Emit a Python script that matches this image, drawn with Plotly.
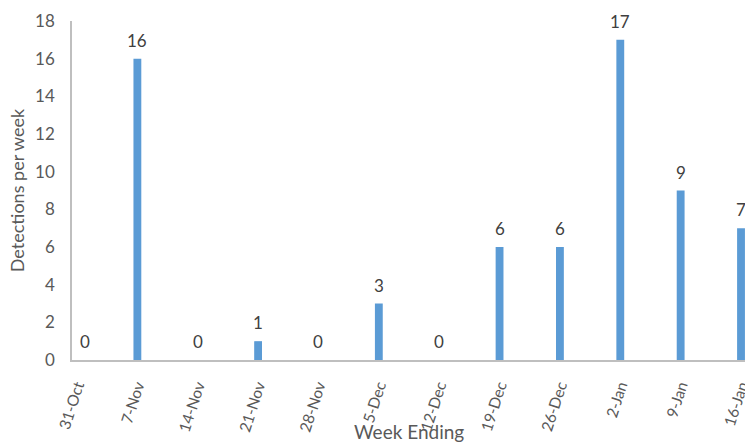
import plotly.graph_objects as go

weeks = ["31-Oct", "7-Nov", "14-Nov", "21-Nov", "28-Nov", "5-Dec", "12-Dec",
         "19-Dec", "26-Dec", "2-Jan", "9-Jan", "16-Jan"]
detections = [0, 16, 0, 1, 0, 3, 0, 6, 6, 17, 9, 7]

FONT = "Lato, Carlito, 'Open Sans', sans-serif"
BAR = "#5B9BD5"

fig = go.Figure()
fig.add_trace(go.Bar(
    x=list(range(len(weeks))), y=detections,
    marker=dict(color=BAR, line=dict(width=0)),
    width=0.13,
    hoverinfo="skip",
))

for i, v in enumerate(detections):
    fig.add_annotation(
        x=i, y=v, text=str(v), showarrow=False,
        yanchor="bottom", yshift=6, xshift=8 if i == 0 else 0,
        font=dict(family=FONT, size=17, color="#404040"),
    )

# x-axis title placed just below the rotated tick labels
fig.add_annotation(
    x=0.5, xref="paper", y=0, yref="paper", yanchor="top", yshift=-58,
    text="Week Ending", showarrow=False,
    font=dict(family=FONT, size=19, color="#595959"),
)

fig.update_layout(
    width=745, height=442,
    margin=dict(l=72, r=0, t=21, b=82),
    paper_bgcolor="white", plot_bgcolor="white",
    showlegend=False,
    font=dict(family=FONT, size=18, color="#595959"),
)
fig.update_xaxes(
    tickmode="array", tickvals=list(range(len(weeks))), ticktext=weeks,
    range=[-0.083, 11.066], tickangle=-72,
    ticklabeloverflow="allow", automargin=False,
    showgrid=False, zeroline=False,
    showline=True, linecolor="#BFBFBF", linewidth=1.5,
    ticks="outside", ticklen=9, tickcolor="rgba(0,0,0,0)",
    tickfont=dict(family=FONT, size=15.5, color="#595959"),
)
fig.update_yaxes(
    range=[0, 18], dtick=2, tick0=0, automargin=False,
    showgrid=False, zeroline=False,
    showline=True, linecolor="#BFBFBF", linewidth=1.5,
    ticks="outside", ticklen=12, tickcolor="rgba(0,0,0,0)",
    tickfont=dict(family=FONT, size=17, color="#595959"),
    title=dict(text="Detections per week", font=dict(family=FONT, size=18, color="#595959"), standoff=6),
)

fig.write_html("out.html")
